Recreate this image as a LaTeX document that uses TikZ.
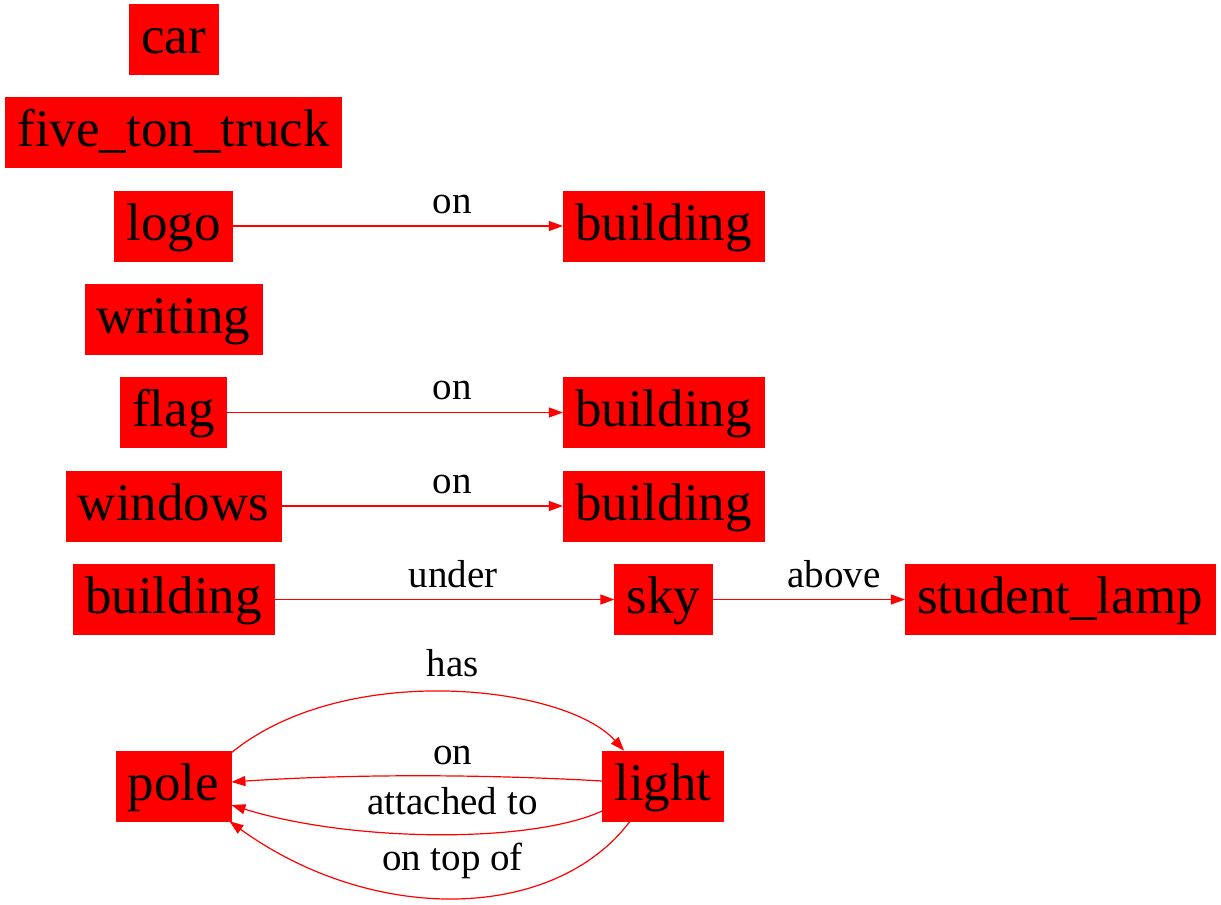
\documentclass[tikz,border=0pt]{standalone}
\usepackage{fontspec}
\setmainfont{Liberation Serif}
\usetikzlibrary{arrows.meta}
\definecolor{gvred}{HTML}{FF0000}
\tikzset{
  obj/.style={fill=gvred, draw=gvred, line width=0.6pt, inner xsep=12pt, inner ysep=0pt,
    minimum height=70pt, text height=38pt, text depth=10pt, text=black,
    font=\fontsize{53pt}{60pt}\selectfont},
  rel/.style={draw=gvred, line width=1.2pt, -{Triangle[length=14pt,width=10pt]}},
  lab/.style={anchor=base, text=black, inner sep=0pt, font=\fontsize{39pt}{45pt}\selectfont}
}
\begin{document}
\begin{tikzpicture}[x=1pt,y=-1pt]
\useasboundingbox (0,0) rectangle (1221,905);
% left column
\node[obj] (car)     at (173.5,39.5)  {car};
\node[obj] (truck)   at (173.5,132.5) {five\_ton\_truck};
\node[obj] (logo)    at (173.5,226)   {logo};
\node[obj] (writing) at (173.5,319.5) {writing};
\node[obj] (flag)    at (173.5,412.5) {flag};
\node[obj] (windows) at (173.5,506)   {windows};
\node[obj] (bldg)    at (173.5,599.5) {building};
\node[obj] (pole)    at (173.5,786)   {pole};
% right column
\node[obj] (b1)    at (663.5,226)   {building};
\node[obj] (b2)    at (663.5,412.5) {building};
\node[obj] (b3)    at (663.5,506)   {building};
\node[obj] (sky)   at (663.5,599.5) {sky};
\node[obj] (lamp)  at (1060,599.5)  {student\_lamp};
\node[obj] (light) at (663,786)     {light};
% straight edges
\draw[rel] (logo) -- (b1) node[lab] at (452,213) {on};
\draw[rel] (flag) -- (b2) node[lab] at (452,399.5) {on};
\draw[rel] (windows) -- (b3) node[lab] at (452,493) {on};
\draw[rel] (bldg) -- (sky) node[lab] at (453,587) {under};
\draw[rel] (sky) -- (lamp) node[lab] at (834,587) {above};
% pole / light
\draw[rel] ([yshift=-2pt]pole.north east) .. controls (345,660) and (565,685) .. ([xshift=22pt]light.north west);
\node[lab] (lhas) at (452.5,676) {has};
\draw[rel] ([yshift=5pt]light.west) .. controls (480,774) and (350,774) .. ([yshift=4pt]pole.east);
\node[lab] (lon) at (452.5,764) {on};
\draw[rel] ([yshift=-25pt]light.west) .. controls (530,844) and (350,842) .. ([yshift=-19pt]pole.east);
\node[lab] (latt) at (452.5,814) {attached to};
\draw[rel] ([xshift=-33pt]light.south) .. controls (555,921) and (375,926) .. ([xshift=-2pt]pole.south east);
\node[lab] (ltop) at (452.5,870) {on top of};
\end{tikzpicture}
\end{document}
